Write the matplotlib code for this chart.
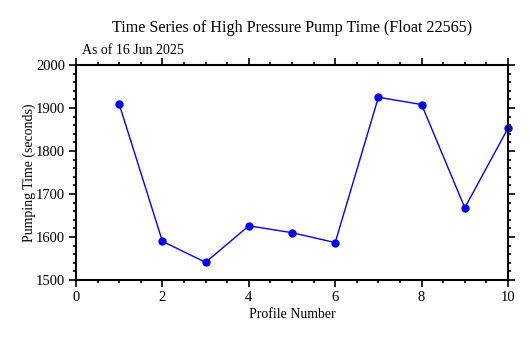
import matplotlib
matplotlib.use("Agg")
import matplotlib.pyplot as plt
from matplotlib.ticker import MultipleLocator

# data
profiles = [1, 2, 3, 4, 5, 6, 7, 8, 9, 10]
pump_time = [1909, 1590, 1541, 1626, 1610, 1587, 1925, 1908, 1668, 1853]

plt.rcParams['font.family'] = ['Liberation Serif', 'DejaVu Serif']

fig = plt.figure(figsize=(5.30, 3.38), dpi=100)
ax = fig.add_axes([76 / 530, 1 - 280 / 338, 432 / 530, 215 / 338])

ax.plot(profiles, pump_time, color='#0000ff', linewidth=1.0,
        marker='o', markersize=5, clip_on=False)

ax.set_xlim(0, 10)
ax.set_ylim(1500, 2000)
ax.xaxis.set_major_locator(MultipleLocator(2))
ax.xaxis.set_minor_locator(MultipleLocator(0.5))
ax.yaxis.set_major_locator(MultipleLocator(100))
ax.yaxis.set_minor_locator(MultipleLocator(20))

ax.tick_params(which='both', direction='out', top=True, right=True,
               labelsize=10.5, width=1.2)
ax.tick_params(which='major', length=5, pad=3)
ax.tick_params(which='minor', length=2.5)
for s in ax.spines.values():
    s.set_linewidth(1.5)

ax.set_xlabel('Profile Number', fontsize=10, labelpad=3)
ax.set_ylabel('Pumping Time (seconds)', fontsize=10, labelpad=0)

fig.text(292 / 530, 1 - 28 / 338,
         'Time Series of High Pressure Pump Time (Float 22565)',
         ha='center', va='center', fontsize=11.6)
fig.text(82 / 530, 1 - 50 / 338, 'As of 16 Jun 2025',
         ha='left', va='center', fontsize=10)

fig.savefig('out.png', dpi=100)
